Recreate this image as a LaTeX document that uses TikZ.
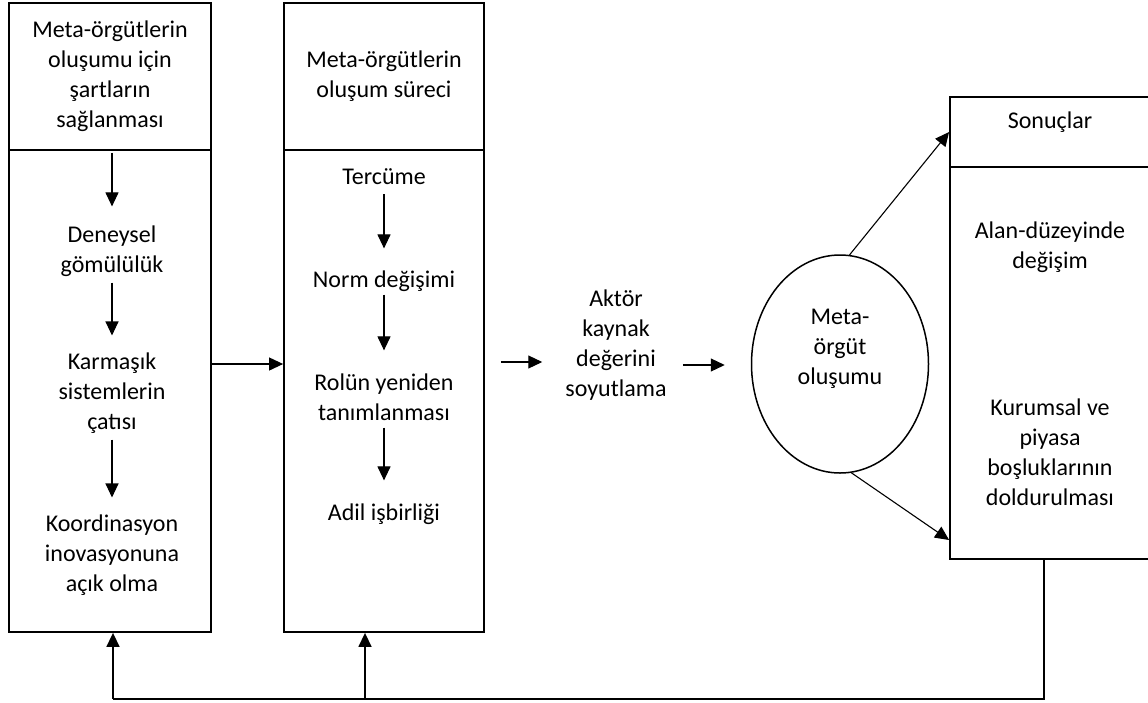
\documentclass[tikz,border=0pt]{standalone}
\usepackage{fontspec}
\setmainfont{Carlito}
\usetikzlibrary{arrows.meta,shapes.geometric}

\begin{document}
\begin{tikzpicture}[x=1pt,y=-1pt,
  font=\fontsize{24}{30}\selectfont,
  box/.style={draw, line width=1.8pt, inner sep=0pt, align=center},
  item/.style={inner sep=0pt, align=center},
  arr/.style={-{Triangle[width=13pt,length=14pt]}, line width=1.1pt},
  flow/.style={arr, shorten <=6pt, shorten >=17pt}]
\useasboundingbox (0,0) rectangle (1148,702);

\draw[solid]
(110,76.5) node[box, minimum width=202pt, minimum height=147pt] (H1) {Meta-örgütlerin\\oluşumu için\\şartların\\sağlanması}
(110,391) node[box, minimum width=202pt, minimum height=482pt] (B1) {}
(384,76.5) node[box, minimum width=200pt, minimum height=147pt] (H2) {Meta-örgütlerin\\oluşum süreci}
(384,391) node[box, minimum width=200pt, minimum height=482pt] (B2) {}
(1050,132) node[box, minimum width=200pt, minimum height=70pt, text depth=23pt] (H3) {Sonuçlar}
(1050,363) node[box, minimum width=200pt, minimum height=392pt] (B3) {}
(840,364) node[draw, ellipse, line width=1.5pt, minimum width=177pt, minimum height=218pt, inner sep=0pt] (M) {};

% items inside the boxes
\node[item] (D1) at (112,251) {Deneysel\\gömülülük};
\node[item] (K1) at (112,393) {Karmaşık\\sistemlerin\\çatısı};
\node[item] (K2) at (112,555) {Koordinasyon\\inovasyonuna\\açık olma};
\node[item] (T1) at (384,177) {Tercüme};
\node[item] (T2) at (384,281) {Norm değişimi};
\node[item] (T3) at (384,397) {Rolün yeniden\\tanımlanması};
\node[item] (T4) at (384,514) {Adil işbirliği};
\node[item] (A) at (616,345) {Aktör\\kaynak\\değerini\\soyutlama};
\node[item] (MT) at (840,349) {Meta-\\örgüt\\oluşumu};
\node[item] (S1) at (1050,247) {Alan-düzeyinde\\değişim};
\node[item] (S2) at (1050,452) {Kurumsal ve\\piyasa\\boşluklarının\\doldurulması};

\coordinate (fb) at (1044,699);
\coordinate (fb1) at (113,699);
\coordinate (fb2) at (365,699);

\draw[arr, shorten <=2pt, shorten >=19pt] (H1.south -| D1) -- (D1);
\draw[flow] (D1) edge (K1);
\draw[flow] (K1) edge (K2);
\draw[flow, shorten <=9pt, shorten >=22pt] (T1) edge (T2);
\draw[flow, shorten <=3pt, shorten >=23pt] (T2) edge (T3);
\draw[flow, shorten <=7pt, shorten >=23pt] (T3) edge (T4);

\draw[arr] (B1.east |- 0,364) -- (B2.west |- 0,364);
\draw[arr, shorten <=16pt, shorten >=23pt] (B2.east |- 0,362) -- (A.west |- 0,362);
\draw[arr, shorten <=16pt, shorten >=26pt] (A.east |- 0,365) -- (M.west |- 0,365);
\draw[arr] (M.85) -- (H3.west);
\draw[arr] (M.-84) -- (B3.west |- 0,540);

% feedback
\draw[line width=1.5pt] (B3.south -| fb) -- (fb) -- (fb1);
\draw[arr, line width=1.5pt] (fb1) -- (B1.south -| fb1);
\draw[arr, line width=1.5pt] (fb2) -- (B2.south -| fb2);
\end{tikzpicture}
\end{document}
